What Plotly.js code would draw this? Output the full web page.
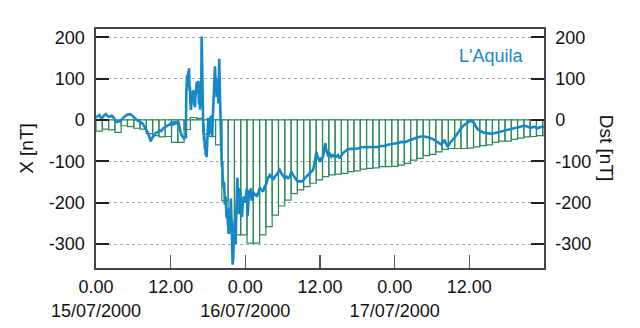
<!DOCTYPE html>
<html><head><meta charset="utf-8">
<script src="https://cdn.plot.ly/plotly-3.0.1.min.js"></script>
<style>html,body{margin:0;padding:0;background:#fff}#chart{width:640px;height:328px}</style>
</head><body><div id="chart"></div>
<script>
// Dst index, hourly bins starting 15/07/2000 00 UT
const dstHour = [0,1,2,3,4,5,6,7,8,9,10,11,12,13,14,15,16,17,18,19,20,21,22,23,
  24,25,26,27,28,29,30,31,32,33,34,35,36,37,38,39,40,41,42,43,44,45,46,47,
  48,49,50,51,52,53,54,55,56,57,58,59,60,61,62,63,64,65,66,67,68,69,70,71];
const dstValue = [-27,-22,-24,-30,-14,-16,-20,-22,-33,-38,-41,-40,-54,-54,-23,6,4,-34,-40,-60,-195,-274,-278,-278,
  -298,-298,-278,-258,-230,-208,-194,-178,-169,-161,-153,-145,-137,-133,-131,-129,-125,-123,-119,-117,-116,-113,-113,-112,
  -109,-105,-97,-93,-86,-83,-77,-71,-69,-69,-69,-68,-65,-62,-60,-54,-51,-51,-47,-44,-41,-40,-38,-38];

// X component at L'Aquila (hours since 15/07/2000 00 UT, nT)
const xHour = [0.0,0.3,0.55,0.8,1.05,1.35,1.6,1.9,2.2,2.5,2.8,3.1,3.4,3.7,4.0,4.3,4.6,4.9,5.2,5.5,5.8,6.1,6.4,6.8,7.2,7.5,7.8,8.1,8.4,8.65,8.8,9.0,9.3,9.6,9.9,10.2,10.5,10.8,11.1,11.4,11.7,12.0,12.2,12.4,12.6,12.8,13.0,13.2,13.4,13.6,13.8,14.0,14.2,14.35,
  14.45,14.5,14.55,14.6,14.65,14.7,14.78,14.85,14.9,14.95,15.0,15.05,15.1,15.18,15.27,15.33,15.4,15.45,15.49,15.55,15.65,15.72,15.8,15.86,15.91,15.98,16.05,16.12,16.2,16.27,16.35,16.4,16.45,16.5,16.56,16.62,16.72,16.8,16.88,16.93,16.98,17.03,17.09,17.15,17.2,17.25,17.3,17.35,17.41,17.5,17.55,17.62,17.7,17.78,17.85,17.94,
  18.0,18.05,18.1,18.15,18.2,18.26,18.32,18.4,18.48,18.55,18.62,18.69,18.75,18.8,18.85,18.92,19.01,19.07,19.12,19.18,19.22,19.3,19.39,19.45,19.5,19.55,19.6,19.65,19.72,19.78,19.81,19.86,19.92,19.97,20.02,20.08,
  20.14,20.19,20.25,20.3,20.35,20.42,20.51,20.58,20.65,20.72,20.8,20.88,20.95,21.04,21.1,21.15,21.2,21.25,21.32,21.42,21.47,21.52,21.6,21.68,21.74,21.79,21.85,21.9,21.95,22.0,22.05,22.12,22.2,22.27,22.35,22.4,22.45,22.52,22.6,22.66,22.72,22.78,22.86,22.93,
  23.0,23.15,23.3,23.45,23.6,23.75,23.93,24.1,24.25,24.38,24.5,24.6,24.75,24.9,25.0,25.15,25.3,25.5,25.7,25.85,26.06,26.33,
  26.6,26.86,27.0,27.13,27.4,27.67,27.8,27.93,28.2,28.47,28.73,29.0,29.27,29.53,29.8,30.07,30.33,30.6,30.87,31.14,31.4,31.67,31.94,32.2,32.47,32.75,33.0,33.27,33.54,33.81,34.07,34.34,34.61,34.88,35.14,35.3,35.41,35.55,35.68,35.94,36.1,36.21,36.48,36.65,36.75,36.85,37.01,37.15,37.28,37.55,37.82,38.08,38.35,38.62,38.88,39.15,39.42,39.7,39.96,
  40.49,41.02,41.56,42.1,42.63,43.16,43.7,44.23,44.77,45.3,45.84,46.37,46.9,47.44,47.97,48.5,49.04,49.57,50.1,50.64,51.17,51.7,52.24,52.77,53.3,53.84,54.37,54.91,55.44,55.7,55.98,56.24,56.51,56.78,57.05,57.58,58.12,58.65,59.18,59.72,60.0,60.25,60.52,60.79,61.05,61.32,61.86,62.39,62.92,63.46,63.99,64.53,65.06,65.6,66.13,66.67,67.2,67.73,68.27,68.8,69.34,69.87,70.4,70.94,71.47,72.0];
const xValue = [6,9,12,5,6,12,14,9,8,10,7,-2,-5,-3,-1,4,9,12,13,14,11,6,2,-2,-5,-9,-16,-24,-33,-45,-52,-44,-38,-31,-30,-25,-27,-20,-17,-15,-12,-8,-14,-4,-12,-3,-10,-2,-20,-30,-38,-42,-46,-40,
  -44,60,105,90,110,80,100,118,95,125,100,70,80,40,24,45,60,45,70,55,72,50,35,50,30,55,70,60,92,70,85,65,95,60,38,55,25,45,60,100,202,150,100,40,0,-30,-10,-50,-40,-70,-60,-85,-75,-90,-70,-45,
  -10,5,-20,-5,-35,-15,-28,0,10,-20,-5,-42,0,20,35,60,115,100,130,110,95,70,55,80,95,100,70,40,80,120,148,110,60,15,-20,-50,
  -80,-100,-115,-100,-135,-150,-165,-150,-190,-205,-185,-198,-230,-238,-215,-222,-255,-250,-275,-268,-235,-212,-240,-190,-225,-240,-300,-285,-350,-320,-340,-300,-290,-250,-240,-280,-300,-240,-200,-165,-140,-170,-195,-210,
  -228,-165,-215,-235,-200,-185,-200,-180,-165,-232,-190,-170,-180,-165,-195,-180,-175,-183,-178,-186,-175,-165,
  -169,-173,-165,-161,-153,-137,-140,-133,-137,-145,-137,-133,-125,-121,-129,-137,-141,-137,-141,-137,-125,-133,-141,-145,-149,-148,-149,-147,-141,-137,-133,-129,-125,-121,-105,-90,-77,-85,-89,-101,-95,-97,-89,-75,-69,-56,-73,-80,-85,-81,-89,-85,-89,-89,-85,-93,-85,-80,-77,
  -71,-70,-69,-69,-66,-66,-66,-65,-66,-65,-63,-63,-60,-58,-57,-56,-53,-54,-51,-48,-44,-42,-40,-40,-42,-44,-48,-54,-59,-55,-48,-56,-65,-59,-52,-44,-32,-20,-12,-6,-3,-1,-4,-8,-16,-22,-28,-31,-32,-33,-32,-30,-28,-27,-25,-23,-20,-19,-17,-14,-16,-19,-16,-20,-17,-16];

const tickHours = [0,12,24,36,48,60];
const tickText = ['0.00<br>15/07/2000','12.00','0.00<br>16/07/2000','12.00','0.00<br>17/07/2000','12.00'];
const yTicks = [-300,-200,-100,0,100,200];
const yTickText = ['-300','-200','-100','0','100','200'];

const blue = '#1688c6';
const green = '#2e8b57';
const font = {family:'Arial, "Liberation Sans", sans-serif', size:18, color:'#111'};

const traces = [
  {type:'bar', x:dstHour, y:dstValue, xaxis:'x', yaxis:'y', width:1, offset:0,
   marker:{color:'rgba(255,255,255,0)', line:{color:green, width:1.2}}, hoverinfo:'skip'},
  {type:'scatter', mode:'lines', x:xHour, y:xValue, xaxis:'x2', yaxis:'y2',
   line:{color:blue, width:2.6}, hoverinfo:'skip'}
];

const yr = [-358, 220];
const layout = {
  width:640, height:328,
  margin:{l:96, r:96, t:29, b:60},
  paper_bgcolor:'#fff', plot_bgcolor:'#fff',
  showlegend:false, bargap:0, font:font,
  xaxis:{range:[0,71.2], visible:false, fixedrange:true},
  xaxis2:{overlaying:'x', side:'bottom', range:[0,72], tickvals:tickHours, ticktext:tickText,
    ticks:'inside', ticklen:13, tickwidth:1.5, tickcolor:'#555', showgrid:false, zeroline:false,
    showline:true, linecolor:'#444', linewidth:1.6, mirror:true, tickfont:font, ticklabelstandoff:2},
  yaxis:{side:'right', range:yr, tickvals:yTicks, ticktext:yTickText, ticks:'inside', ticklen:13, tickwidth:2, tickcolor:'#222',
    showgrid:true, gridcolor:'#aaa', griddash:'dot', gridwidth:1, zeroline:false,
    showline:true, linecolor:'#444', linewidth:1.6, tickfont:font, ticklabelstandoff:6},
  yaxis2:{overlaying:'y', side:'left', range:yr, tickvals:yTicks, ticktext:yTickText, ticks:'inside', ticklen:13, tickwidth:2, tickcolor:'#222',
    showgrid:false, zeroline:false, showline:true, linecolor:'#444', linewidth:1.6, tickfont:font, ticklabelstandoff:6,
    title:{text:'X [nT]', font:{family:font.family, size:19, color:'#111'}, standoff:10}},
  annotations:[
    {text:"L'Aquila", xref:'paper', yref:'paper', x:0.958, y:0.887, xanchor:'right', yanchor:'middle',
     showarrow:false, font:{family:font.family, size:18, color:blue}},
    {text:'Dst [nT]', xref:'paper', yref:'paper', x:1.14, y:0.5, xanchor:'center', yanchor:'middle',
     textangle:90, showarrow:false, font:{family:font.family, size:19, color:'#111'}}
  ]
};
Plotly.newPlot('chart', traces, layout, {staticPlot:true, displayModeBar:false});
</script></body></html>
